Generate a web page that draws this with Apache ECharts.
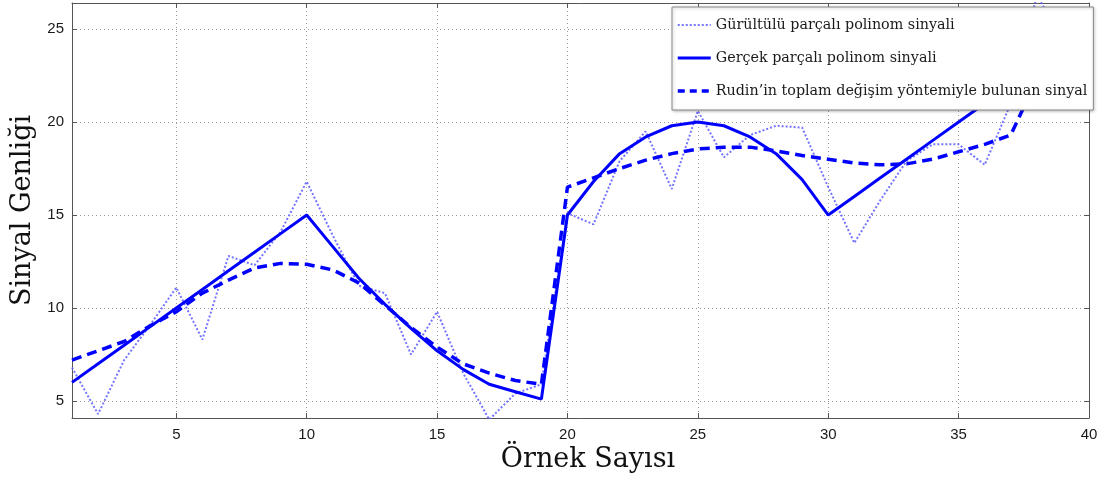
<!DOCTYPE html>
<html>
<head>
<meta charset="utf-8">
<script src="https://cdn.jsdelivr.net/npm/echarts@6/dist/echarts.min.js"></script>
<style>html,body{margin:0;padding:0;background:#fff}#c{width:1110px;height:480px}</style>
</head>
<body>
<div id="c"></div>
<script>
// sample indices
const samples = [1,2,3,4,5,6,7,8,9,10,11,12,13,14,15,16,17,18,19,20,21,22,23,24,25,26,27,28,29,30,31,32,33,34,35,36,37,38,39,40];
// noisy piecewise polynomial signal
const noisySignal = [6.8,4.3,7.2,9.1,11.1,8.3,12.8,12.3,14.1,16.8,13.9,11.2,10.8,7.5,9.8,6.5,4.0,5.4,5.9,15.1,14.5,17.9,19.5,16.4,20.6,18.1,19.3,19.8,19.7,16.5,13.5,15.8,17.9,18.8,18.8,17.7,21.0,26.8,24.5,25.8];
// true piecewise polynomial signal
const trueSignal = [6,7,8,9,10,11,12,13,14,15,13.3,11.6,10.2,8.9,7.7,6.7,5.9,5.5,5.1,15,16.8,18.3,19.2,19.8,20,19.8,19.2,18.3,16.9,15,16,17,18,19,20,21,22,23,24,25];
// Rudin total variation result
const rudinSignal = [7.2,7.7,8.2,9.05,9.8,10.8,11.5,12.15,12.4,12.35,12.05,11.35,10.15,8.95,7.9,7.0,6.5,6.1,5.9,16.5,17.0,17.5,17.95,18.3,18.55,18.65,18.65,18.45,18.2,18.0,17.8,17.7,17.75,18.0,18.4,18.8,19.3,22.3,24.0,25.0];
const seriesNames = ['Gürültülü parçalı polinom sinyali','Gerçek parçalı polinom sinyali','Rudin\u2019in toplam değişim yöntemiyle bulunan sinyal'];
const xTitle = 'Örnek Sayısı';
const yTitle = 'Sinyal Genliği';

const pairs = arr => samples.map((x, i) => [x, arr[i]]);
const chart = echarts.init(document.getElementById('c'), null, {renderer: 'canvas'});
const tickFont = {fontFamily: 'Liberation Sans', fontSize: 15, color: '#1a1a1a'};
const gridLine = {show: true, lineStyle: {color: '#9a9a9a', type: [1, 3], width: 1}};
const axLine = {show: true, lineStyle: {color: '#555', width: 1}};
const noisyStyle = {color: '#5c5cff', width: 2, type: [2, 2], opacity: 0.85};
const trueStyle = {color: '#0000ff', width: 3};
const rudinStyle = {color: '#0000ff', width: 3.5, type: [10, 6]};
chart.setOption({
  animation: false,
  grid: {left: 72, right: 21, top: 3, bottom: 62, show: false},
  legend: {
    orient: 'vertical', left: 672, top: 7, z: 20,
    padding: [11, 6, 12, 4],
    itemWidth: 33, itemHeight: 14, itemGap: 19,
    itemStyle: {opacity: 0},
    backgroundColor: '#fff', borderColor: '#888', borderWidth: 1,
    shadowColor: 'rgba(0,0,0,0.25)', shadowBlur: 3, shadowOffsetX: 1, shadowOffsetY: 1,
    textStyle: {fontFamily: 'DejaVu Serif', fontSize: 14.3, color: '#1a1a1a'},
    data: [
      {name: seriesNames[0], lineStyle: noisyStyle},
      {name: seriesNames[1], lineStyle: trueStyle},
      {name: seriesNames[2], lineStyle: {color: '#0000ff', width: 3.5, type: [7, 5]}}
    ]
  },
  xAxis: [{
    type: 'value', min: 1, max: 40, splitNumber: 8,
    name: xTitle, nameLocation: 'middle', nameGap: 26,
    nameTextStyle: {fontFamily: 'DejaVu Serif', fontSize: 27, color: '#111', padding: [0, 0, 0, 15]},
    axisLine: axLine,
    axisTick: {show: true, inside: true, length: 5, lineStyle: {color: '#555'}},
    axisLabel: Object.assign({margin: 9, showMinLabel: false}, tickFont),
    splitLine: gridLine
  }, {
    type: 'value', min: 1, max: 40, splitNumber: 8, position: 'top',
    axisLine: axLine,
    axisTick: {show: true, inside: true, length: 5, lineStyle: {color: '#555'}},
    axisLabel: {show: false}, splitLine: {show: false}
  }],
  yAxis: [{
    type: 'value', min: 4.086, max: 26.4,
    name: yTitle, nameLocation: 'middle', nameGap: 36,
    nameTextStyle: {fontFamily: 'DejaVu Serif', fontSize: 27, color: '#111'},
    axisLine: axLine,
    axisTick: {show: true, inside: true, length: 5, lineStyle: {color: '#555'}},
    axisLabel: Object.assign({margin: 8, showMinLabel: false, showMaxLabel: false}, tickFont),
    splitLine: gridLine
  }, {
    type: 'value', min: 4.086, max: 26.4, position: 'right',
    axisLine: axLine,
    axisTick: {show: true, inside: true, length: 5, lineStyle: {color: '#555'}},
    axisLabel: {show: false}, splitLine: {show: false}
  }],
  series: [{
    name: seriesNames[0], type: 'line', data: pairs(noisySignal), showSymbol: false, symbol: 'none',
    lineStyle: noisyStyle, itemStyle: {color: '#5c5cff'}, z: 2
  }, {
    name: seriesNames[1], type: 'line', data: pairs(trueSignal), showSymbol: false, symbol: 'none',
    lineStyle: trueStyle, itemStyle: {color: '#0000ff'}, z: 3
  }, {
    name: seriesNames[2], type: 'line', data: pairs(rudinSignal), showSymbol: false, symbol: 'none',
    lineStyle: rudinStyle, itemStyle: {color: '#0000ff'}, z: 4
  }]
});
</script>
</body>
</html>
